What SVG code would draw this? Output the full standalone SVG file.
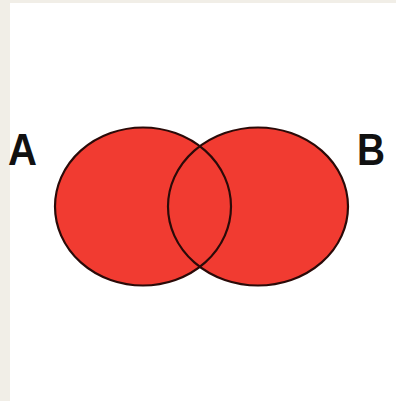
<svg xmlns="http://www.w3.org/2000/svg" width="396" height="401" viewBox="0 0 396 401">
<style>
.fill{fill:#f13b31;stroke:none}
.edge{fill:none;stroke:#2a0a08;stroke-width:2.2}
.lbl{font-family:"Liberation Sans",Arial,sans-serif;font-weight:bold;font-size:44px;fill:#111}
</style>
<rect width="396" height="401" fill="#ffffff"/>
<rect x="0" y="0" width="10" height="401" fill="#f1eee7"/>
<rect x="0" y="0" width="396" height="3" fill="#f1eee7"/>
<g id="setA">
<ellipse class="fill" cx="143" cy="206.5" rx="88" ry="79"/>
</g>
<g id="setB">
<ellipse class="fill" cx="258" cy="206.5" rx="90" ry="79"/>
</g>
<g id="outlines">
<ellipse class="edge" cx="143" cy="206.5" rx="88" ry="79"/>
<ellipse class="edge" cx="258" cy="206.5" rx="90" ry="79"/>
</g>
<g id="labelA"><text class="lbl" x="8" y="165" textLength="29" lengthAdjust="spacingAndGlyphs">A</text></g>
<g id="labelB"><text class="lbl" x="357" y="165" textLength="28" lengthAdjust="spacingAndGlyphs">B</text></g>
</svg>
